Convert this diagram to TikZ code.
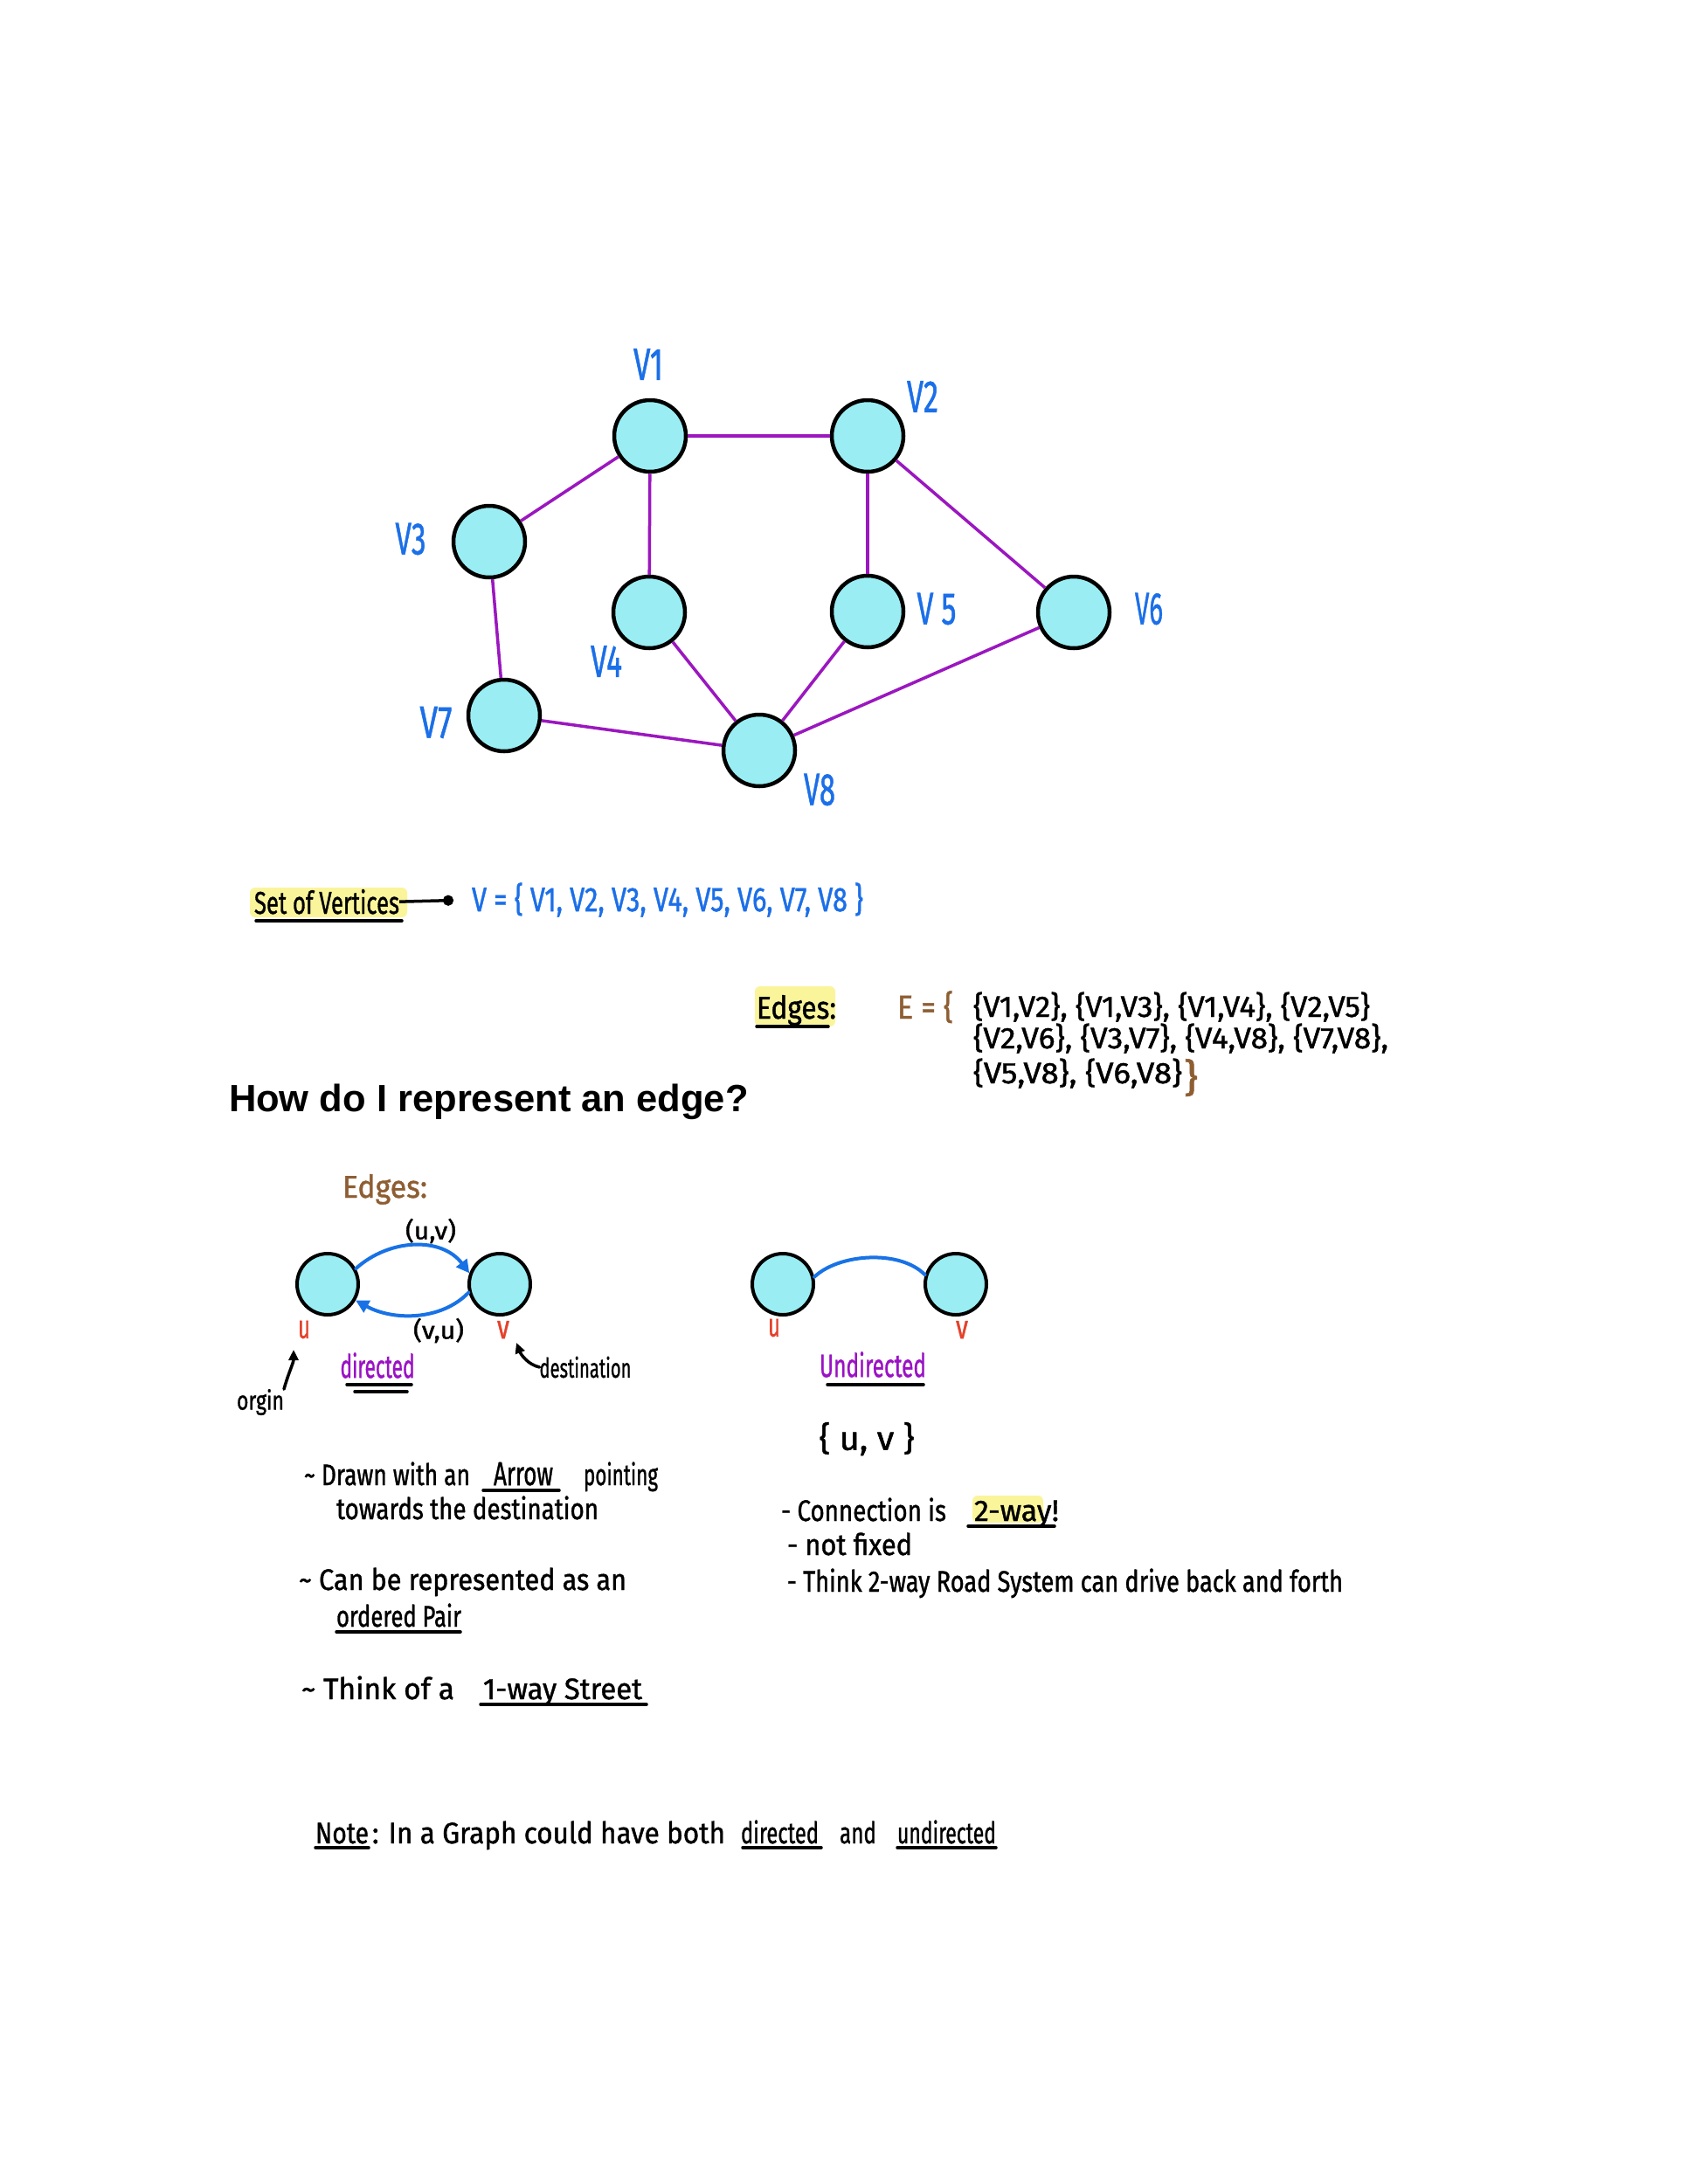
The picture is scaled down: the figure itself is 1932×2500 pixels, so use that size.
\documentclass[tikz,border=0pt]{standalone}
\usepackage{fontspec}
\usepackage{graphicx}
\setmainfont{Fira Sans}[FakeBold=1.2]
\newfontfamily\headfont{Liberation Sans}
\usetikzlibrary{arrows.meta}

\definecolor{vfill}{HTML}{9AEEF3}
\definecolor{edgepurple}{HTML}{9B17BF}
\definecolor{vblue}{HTML}{1B6FE8}
\definecolor{arcblue}{HTML}{1872E6}
\definecolor{ured}{HTML}{E5412B}
\definecolor{brownink}{HTML}{8E5E33}
\definecolor{hilite}{HTML}{FAF59B}
\definecolor{txtpurple}{HTML}{9A12C4}

% hand-lettered text: font size, target width, text (height kept)
\newcommand\hw[3]{\resizebox{#2pt}{\height}{\fontsize{#1}{#1}\selectfont #3}}

\begin{document}
\begin{tikzpicture}[x=1pt,y=-1pt,
  vertex/.style={circle,draw=black,line width=4.5pt,fill=vfill,minimum size=82pt,inner sep=0pt},
  pairvertex/.style={vertex,line width=4pt,minimum size=70pt},
  gedge/.style={draw=edgepurple,line width=3.5pt},
  txt/.style={inner sep=0pt,outer sep=0pt},
  ink/.style={line width=3.5pt,line cap=round},
  bluearc/.style={draw=arcblue,line width=4pt,line cap=round},
  hl/.style={fill=hilite,rounded corners=6pt},
  tip/.style={-{Triangle[length=15pt,width=15pt]}}
]
\fill[white] (0,0) rectangle (1932,2500);
\useasboundingbox (0,0) rectangle (1932,2500);

% ---------------- the graph ----------------
\node[vertex] (v1) at (744,499) {};
\node[vertex] (v2) at (993,499) {};
\node[vertex] (v3) at (560,620) {};
\node[vertex] (v4) at (743,701) {};
\node[vertex] (v5) at (993,700) {};
\node[vertex] (v6) at (1229,701) {};
\node[vertex] (v7) at (577,819) {};
\node[vertex] (v8) at (869,859) {};

\draw[gedge] (v1) -- (v2);
\draw[gedge] (v1) -- (v3);
\draw[gedge] (v1) -- (v4);
\draw[gedge] (v2) -- (v5);
\draw[gedge] (v2) -- (v6);
\draw[gedge] (v3) -- (v7);
\draw[gedge] (v4) -- (v8);
\draw[gedge] (v5) -- (v8);
\draw[gedge] (v6) -- (v8);
\draw[gedge] (v7) -- (v8);

\begin{scope}[every node/.style={txt,text=vblue}]
\node (l1) at (742,417)  {\hw{52}{34}{V1}};
\node (l2) at (1056,454) {\hw{52}{36}{V2}};
\node (l3) at (470,617)  {\hw{52}{35}{V3}};
\node (l4) at (694,757)  {\hw{52}{36}{V4}};
\node (l5) at (1072,697) {\hw{52}{45}{V 5}};
\node (l6) at (1315,697) {\hw{52}{32}{V6}};
\node (l7) at (499,827)  {\hw{52}{37}{V7}};
\node (l8) at (938,904)  {\hw{52}{36}{V8}};
\end{scope}

% ---------------- set of vertices ----------------
\fill[hl] (286,1016) rectangle (466,1050);
\node[txt,anchor=base west] (sov) at (291,1046) {\hw{36}{166}{Set of Vertices}};
\draw[ink] (293,1054) -- (460,1054);
\node[txt,text=vblue,anchor=west] (vset) at (540,1030)
  {\hw{39}{448}{V = \{ V1, V2, V3, V4, V5, V6, V7, V8 \}}};
\draw[line width=3.5pt,-{Circle[length=12pt]},shorten >=21pt] (sov.east) -- (vset.west);

% ---------------- edge set ----------------
\fill[hl] (864,1129) rectangle (956,1175);
\node[txt,anchor=base west] (edg) at (866,1166) {\hw{36}{91}{Edges:}};
\draw[ink] (866,1175) -- (948,1175);
\node[txt,text=brownink,anchor=base west] (eeq) at (1027,1166) {\hw{38}{64}{E = \{}};
\node[txt,anchor=base west] (er1) at (1114,1164) {\hw{34}{454}{\{V1,V2\}, \{V1,V3\}, \{V1,V4\}, \{V2,V5\}}};
\node[txt,anchor=base west] (er2) at (1114,1200) {\hw{34}{475}{\{V2,V6\}, \{V3,V7\}, \{V4,V8\}, \{V7,V8\},}};
\node[txt,anchor=base west] (er3) at (1114,1240) {\hw{34}{239}{\{V5,V8\}, \{V6,V8\}}};
\node[txt,text=brownink,anchor=base west] (eclose) at (1355,1249) {\hw{44}{16}{\}}};

% ---------------- heading ----------------
\node[txt,anchor=base west] (howto) at (262,1272)
  {\headfont\bfseries\fontsize{43.5}{50}\selectfont How do I represent an edge?};

% ---------------- directed pair ----------------
\node[txt,text=brownink,anchor=base west] (edg2) at (392,1371) {\hw{36}{97}{Edges:}};
\node[pairvertex] (du) at (375,1470) {};
\node[pairvertex] (dv) at (572,1470) {};
\draw[bluearc,tip] (du.29) .. controls (445,1418) and (505,1415) .. (dv.160);
\draw[bluearc,tip] (dv.195) .. controls (505,1512) and (450,1512) .. (du.-30);
\node[txt] (puv) at (493,1409) {\hw{28}{58}{(u,v)}};
\node[txt] (pvu) at (502,1523) {\hw{28}{58}{(v,u)}};
\node[txt,text=ured] (dul) at (348,1522) {\hw{38}{14}{u}};
\node[txt,text=ured] (dvl) at (576,1522) {\hw{38}{14}{v}};
\node[txt,text=txtpurple] (dir) at (432,1563) {\hw{37}{85}{directed}};
\draw[ink] (397,1585) -- (471,1585);
\draw[ink] (406,1593) -- (466,1593);
\node[txt] (orgin) at (298,1605) {\hw{30}{54}{orgin}};
\coordinate (oend) at (336,1545);
\draw[ink,-{Triangle[length=12pt,width=11pt]}] (orgin.north east) .. controls (330,1572) and (336,1560) .. (oend);
\node[txt] (dest) at (670,1565) {\hw{31}{105}{destination}};
\coordinate (dend) at (591,1537);
\draw[ink,-{Triangle[length=12pt,width=11pt]}] (dest.west) .. controls (604,1562) and (596,1550) .. (dend);

% ---------------- undirected pair ----------------
\node[pairvertex] (uu) at (896,1470) {};
\node[pairvertex] (uv) at (1094,1470) {};
\draw[bluearc] (uu.13) .. controls (960,1435) and (1030,1430) .. (uv.163);
\node[txt,text=ured] (uul) at (886,1520) {\hw{38}{14}{u}};
\node[txt,text=ured] (uvl) at (1101,1522) {\hw{38}{14}{v}};
\node[txt,text=txtpurple] (undir) at (999,1562) {\hw{37}{122}{Undirected}};
\draw[ink] (947,1585) -- (1057,1585);
\node[txt] (uset) at (992,1647) {\hw{38}{109}{\{ u, v \}}};

% ---------------- notes on directed edges ----------------
\begin{scope}[every node/.style={txt,anchor=base west}]
\node (a1) at (348,1700) {\hw{34}{190}{\textasciitilde\ Drawn with an}};
\node (a2) at (565,1700) {\hw{38}{68}{Arrow}};
\node (a3) at (668,1700) {\hw{34}{85}{pointing}};
\node (a4) at (385,1739) {\hw{34}{300}{towards the destination}};
\node (b1) at (342,1820) {\hw{34}{375}{\textasciitilde\ Can be represented as an}};
\node (b2) at (385,1862) {\hw{34}{143}{ordered Pair}};
\node (c1) at (345,1945) {\hw{34}{175}{\textasciitilde\ Think of a}};
\node (c2) at (553,1945) {\hw{34}{182}{1-way Street}};
\end{scope}
\draw[ink] (553,1706) -- (640,1706);
\draw[ink] (385,1868) -- (527,1868);
\draw[ink] (550,1951) -- (740,1951);

% ---------------- notes on undirected edges ----------------
\fill[hl] (1113,1712) rectangle (1194,1743);
\begin{scope}[every node/.style={txt,anchor=base west}]
\node (r1) at (894,1741) {\hw{34}{189}{- Connection is}};
\node (r2) at (1115,1741) {\hw{34}{97}{2-way!}};
\node (r3) at (901,1780) {\hw{34}{143}{- not fixed}};
\node (r4) at (901,1822) {\hw{34}{636}{- Think 2-way Road System can drive back and forth}};
\end{scope}
\draw[ink] (1108,1747) -- (1207,1747);

% ---------------- closing note ----------------
\begin{scope}[every node/.style={txt,anchor=base west}]
\node (n1) at (361,2110) {\hw{34}{61}{Note}};
\node (n2) at (426,2110) {\hw{34}{404}{: In a Graph could have both}};
\node (n3) at (848,2110) {\hw{34}{89}{directed}};
\node (n4) at (961,2110) {\hw{34}{42}{and}};
\node (n5) at (1027,2110) {\hw{34}{113}{undirected}};
\end{scope}
\draw[ink] (361,2115) -- (422,2115);
\draw[ink] (850,2115) -- (940,2115);
\draw[ink] (1027,2115) -- (1140,2115);
\end{tikzpicture}
\end{document}
